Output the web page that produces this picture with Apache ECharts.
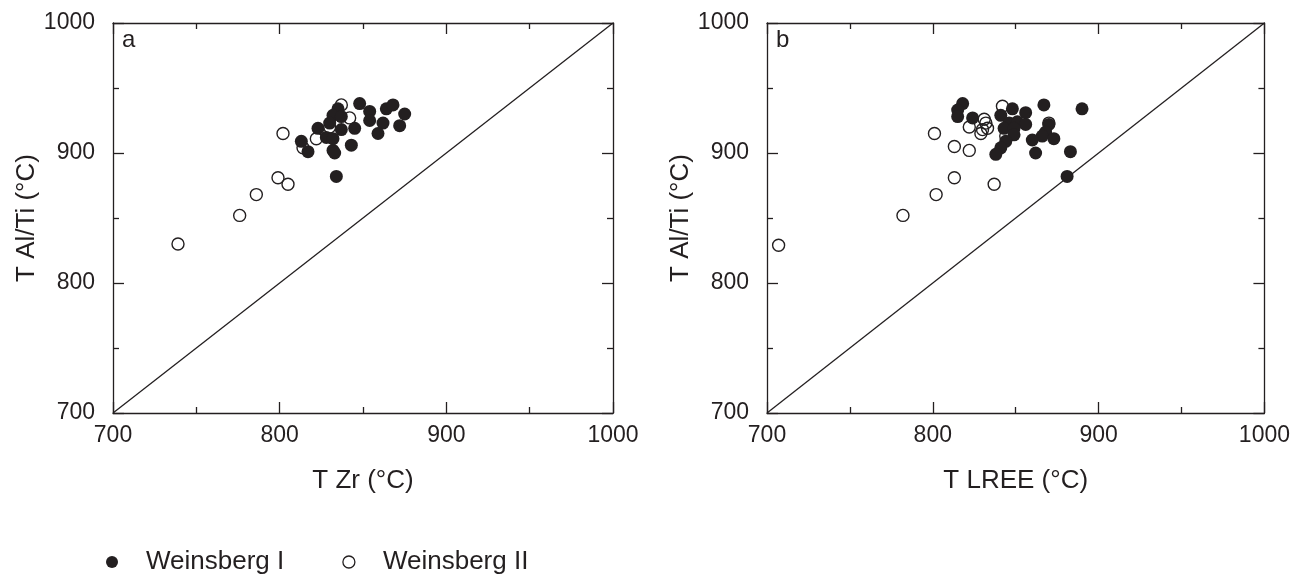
<!DOCTYPE html>
<html>
<head>
<meta charset="utf-8">
<script src="https://cdn.jsdelivr.net/npm/echarts@6/dist/echarts.min.js"></script>
<style>
html,body{margin:0;padding:0;background:#fff;}
#chart{width:1293px;height:577px;}
</style>
</head>
<body>
<div id="chart"></div>
<script>
// Panel a: T Zr vs T Al/Ti
var zrI  = [848,835,832,837,854,864,868,875,854,862,872,845,837,830,823,828,832,813,817,832,833,843,859,834];
var alI  = [938,934,929,928,932,934,937,930,925,923,921,919,918,923,919,912,911,909,901,902,900,906,915,882];
var zrII = [739,776,786,799,805,802,837,842,822,814,830];
var alII = [830,852,868,881,876,915,937,927,911,904,920];
// Panel b: T LREE vs T Al/Ti
var lreeI  = [818,815,815,824,848,841,856,867,890,846,851,856,843,849,849,870,868,866,873,860,844,841,838,862,883,881];
var albI   = [938,933,928,927,934,929,931,937,934,923,924,922,919,919,914,922,916,913,911,910,909,904,899,900,901,882];
var lreeII = [707,782,802,813,837,801,813,822,822,831,832,829,830,833,842,870,844];
var albII  = [829,852,868,881,876,915,905,902,920,926,923,915,918,919,936,923,913];
var oneToOne = [700, 1000];
var tickValues = [700, 800, 900, 1000];

function pairs(xs, ys){ return xs.map(function(x,i){ return [x, ys[i]]; }); }

var FONT = '"Liberation Sans", Arial, sans-serif';
var INK = '#231f20';

function axisBase(pos, show){
  return {
    type:'value', min:700, max:1000, interval:100, position:pos,
    axisLine:{show:true, onZero:false, lineStyle:{color:INK, width:1.3}},
    axisTick:{show:true, inside:true, length:11, lineStyle:{color:INK, width:1.3}},
    minorTick:{show:true, splitNumber:2, length:6, lineStyle:{color:INK, width:1.3}},
    splitLine:{show:false}, minorSplitLine:{show:false},
    axisLabel:{show:show, color:INK, fontFamily:FONT, fontSize:23,
      formatter:function(v){ return tickValues.indexOf(v)>=0 ? String(v) : ''; }}
  };
}

var xAxes = [], yAxes = [];
function addPanel(gi, xname){
  var xb = axisBase('bottom', true);
  xb.gridIndex = gi; xb.name = xname; xb.nameLocation='middle'; xb.nameGap = 55;
  xb.nameTextStyle = {color:INK, fontFamily:FONT, fontSize:26};
  xb.axisLabel.margin = 11;
  var xt = axisBase('top', false); xt.gridIndex = gi;
  var yl = axisBase('left', true);
  yl.gridIndex = gi; yl.name = 'T Al/Ti (°C)'; yl.nameLocation='middle'; yl.nameGap = 68;
  yl.nameTextStyle = {color:INK, fontFamily:FONT, fontSize:26};
  yl.axisLabel.margin = 18;
  var yr = axisBase('right', false); yr.gridIndex = gi;
  xAxes.push(xb, xt); yAxes.push(yl, yr);
}
addPanel(0, 'T Zr (°C)');
addPanel(1, 'T LREE (°C)');

var openStyle = {color:'rgba(255,255,255,0)', borderColor:INK, borderWidth:1.4, opacity:1};
var fillStyle = {color:INK, borderColor:INK, borderWidth:0, opacity:1};

function lineSeries(xi, yi){
  return {type:'line', xAxisIndex:xi, yAxisIndex:yi, data:[[oneToOne[0],oneToOne[0]],[oneToOne[1],oneToOne[1]]],
    showSymbol:false, symbol:'none', lineStyle:{color:INK, width:1.3}, silent:true, z:1};
}

var option = {
  animation:false,
  backgroundColor:'#fff',
  textStyle:{fontFamily:FONT},
  grid:[
    {left:113, top:23, width:500, height:390},
    {left:767, top:23, width:501, height:390}
  ],
  xAxis:xAxes, yAxis:yAxes,
  legend:{
    left:101, top:544, itemWidth:12, itemHeight:12, itemGap:58,
    textStyle:{color:INK, fontFamily:FONT, fontSize:26, padding:[0,0,0,23]},
    data:[
      {name:'Weinsberg I', icon:'circle', itemStyle:fillStyle},
      {name:'Weinsberg II', icon:'circle', itemStyle:{color:'#fff', borderColor:INK, borderWidth:1.3}}
    ]
  },
  graphic:[
    {type:'text', left:122, top:28, style:{text:'a', fontSize:24, fontFamily:FONT, fill:INK}},
    {type:'text', left:776, top:28, style:{text:'b', fontSize:24, fontFamily:FONT, fill:INK}}
  ],
  series:[
    lineSeries(0,0),
    {name:'Weinsberg II', type:'scatter', xAxisIndex:0, yAxisIndex:0, data:pairs(zrII, alII), symbolSize:12, itemStyle:openStyle, z:2},
    {name:'Weinsberg I', type:'scatter', xAxisIndex:0, yAxisIndex:0, data:pairs(zrI, alI), symbolSize:13, itemStyle:fillStyle, z:3},
    lineSeries(2,2),
    {name:'Weinsberg II', type:'scatter', xAxisIndex:2, yAxisIndex:2, data:pairs(lreeII, albII), symbolSize:12, itemStyle:openStyle, z:2},
    {name:'Weinsberg I', type:'scatter', xAxisIndex:2, yAxisIndex:2, data:pairs(lreeI, albI), symbolSize:13, itemStyle:fillStyle, z:3}
  ]
};

var chart = echarts.init(document.getElementById('chart'), null, {renderer:'canvas'});
chart.setOption(option);
</script>
</body>
</html>
